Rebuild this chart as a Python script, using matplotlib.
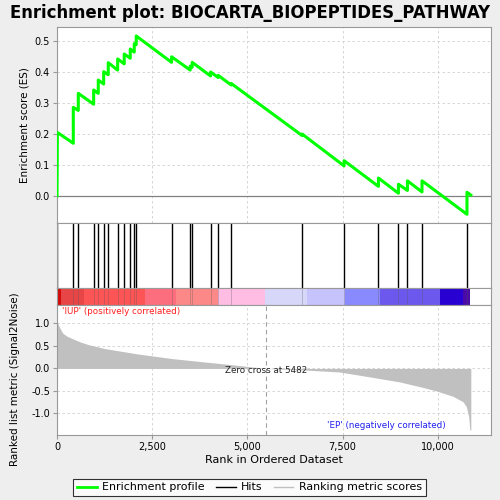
import matplotlib
matplotlib.use("Agg")
import matplotlib.pyplot as plt
from matplotlib.lines import Line2D
from matplotlib.ticker import FuncFormatter

# ---------------- data ----------------
es_rank = [0, 10, 428, 428, 559, 559, 963, 963, 1084, 1084, 1226, 1226, 1346, 1346,
           1593, 1593, 1766, 1766, 1924, 1924, 2029, 2029, 2081, 2081, 3010, 3010,
           3499, 3499, 3551, 3551, 4034, 4034, 4234, 4234, 4575, 4575, 6438, 6438,
           7541, 7541, 8443, 8443, 8968, 8968, 9205, 9205, 9588, 9588, 10769, 10769, 10870]
es_value = [0.0, 0.204, 0.169, 0.285, 0.275, 0.330, 0.295, 0.341, 0.330, 0.373, 0.360, 0.400,
            0.390, 0.429, 0.405, 0.441, 0.425, 0.457, 0.443, 0.473, 0.463, 0.490, 0.487, 0.515,
            0.430, 0.448, 0.405, 0.418, 0.414, 0.430, 0.386, 0.399, 0.381, 0.388, 0.357, 0.362,
            0.194, 0.199, 0.096, 0.113, 0.030, 0.057, 0.008, 0.037, 0.017, 0.048, 0.012, 0.048,
            -0.060, 0.011, 0.002]

hit_ranks = [5, 428, 559, 963, 1084, 1226, 1346, 1593, 1766, 1924, 2029, 2081, 3010,
             3499, 3551, 4034, 4234, 4575, 6438, 7541, 8443, 8968, 9205, 9588, 10769]

metric_rank = [0, 40, 105, 157, 254, 385, 604, 822, 1260, 1697, 2135, 2572, 3010, 3800,
               4500, 5000, 5482, 6600, 7428, 8300, 9000, 9600, 9966, 10402, 10664, 10752,
               10814, 10845, 10870]
metric_value = [1.04, 0.96, 0.85, 0.78, 0.72, 0.67, 0.59, 0.53, 0.44, 0.38, 0.32, 0.27, 0.22,
                0.15, 0.09, 0.045, 0.0, -0.04, -0.08, -0.20, -0.30, -0.42, -0.50, -0.62,
                -0.74, -0.85, -1.07, -1.37, -1.37]

band_edges = [0, 105, 716, 2308, 3121, 4231, 5474, 6557, 7566, 8485, 10058, 10656, 10858]
band_colors = ["#d20a0a", "#e84646", "#fd5555", "#fc6e7e", "#fd8888", "#ffbde3",
               "#d7d7fa", "#c6c2fc", "#8a8aff", "#6c58ec", "#2800d2", "#4a0aa8"]

zero_cross = 5482
x_ticks = [0, 2500, 5000, 7500, 10000]
es_ticks = [0.0, 0.1, 0.2, 0.3, 0.4, 0.5]
metric_ticks = [-1.0, -0.5, 0.0, 0.5, 1.0]

title = "Enrichment plot: BIOCARTA_BIOPEPTIDES_PATHWAY"

# ---------------- figure ----------------
plt.rcParams['font.family'] = ['DejaVu Sans']
fig = plt.figure(figsize=(5, 5), dpi=100, facecolor="#eeeeee")
XMAX = 11400
L, W = 0.114, 0.868
spine_c = "#999999"

def px(y0, y1):
    return [L, 1 - y1 / 500, W, (y1 - y0) / 500]

ax_es = fig.add_axes(px(27.3, 223.3))
ax_hits = fig.add_axes(px(223.3, 288.3))
ax_cb = fig.add_axes(px(288.3, 305))
ax_m = fig.add_axes(px(305, 435))

for ax in (ax_es, ax_hits, ax_cb, ax_m):
    ax.set_xlim(0, XMAX)
    ax.set_facecolor("white")
    for s in ax.spines.values():
        s.set_color(spine_c)
        s.set_linewidth(0.8)

grid_kw = dict(color="#d0d0d0", linestyle=(0, (3, 3)), linewidth=0.6)

# ES panel
ax_es.set_ylim(-0.089, 0.543)
for t in x_ticks[1:]:
    ax_es.axvline(t, **grid_kw, zorder=0)
for t in es_ticks[1:]:
    ax_es.axhline(t, **grid_kw, zorder=0)
ax_es.axhline(0.0, color="#808080", linewidth=0.9, zorder=1)
ax_es.plot(es_rank, es_value, color="#00ff00", linewidth=2.2, zorder=3)
ax_es.set_xticks(x_ticks)
ax_es.tick_params(axis="x", labelbottom=False, length=0)
ax_es.set_yticks(es_ticks)
ax_es.set_yticklabels([f"{t:.1f}" for t in es_ticks])
ax_es.tick_params(axis="y", labelsize=7, length=3, color=spine_c, pad=2)
ax_es.set_ylabel("Enrichment score (ES)", fontsize=7.5, labelpad=4)
fig.text(0.5, 1 - 13.5 / 500, title, fontsize=11.9, fontweight="bold",
         ha="center", va="center")

# hits panel
ax_hits.set_ylim(0, 1)
ax_hits.vlines(hit_ranks, 0, 1, color="black", linewidth=1)
ax_hits.set_xticks([])
ax_hits.set_yticks([])

# colour band
ax_cb.set_ylim(0, 1)
for i, c in enumerate(band_colors):
    ax_cb.axvspan(band_edges[i], band_edges[i + 1], color=c, linewidth=0)
ax_cb.vlines(hit_ranks, 0, 1, color="#555555", linewidth=0.6, alpha=0.35)
ax_cb.set_xticks([])
ax_cb.set_yticks([])

# metric panel
ax_m.set_ylim(-1.48, 1.41)
for t in x_ticks[1:]:
    ax_m.axvline(t, **grid_kw, zorder=0)
for t in metric_ticks:
    ax_m.axhline(t, **grid_kw, zorder=0)
ax_m.fill_between(metric_rank, metric_value, 0, color="#c0c0c0", linewidth=0, zorder=2)
ax_m.axvline(zero_cross, color="#a0a0a0", linestyle=(0, (4, 3)), linewidth=0.8, zorder=3)
ax_m.set_xticks(x_ticks)
ax_m.xaxis.set_major_formatter(FuncFormatter(lambda v, p: f"{int(v):,}"))
ax_m.set_yticks(metric_ticks)
ax_m.set_yticklabels([f"{t:.1f}" for t in metric_ticks])
ax_m.tick_params(labelsize=7, length=3, color=spine_c, pad=2)
ax_m.set_xlabel("Rank in Ordered Dataset", fontsize=8, labelpad=2)
ax_m.set_ylabel("Ranked list metric (Signal2Noise)", fontsize=7.5, labelpad=4)
ax_m.yaxis.set_label_coords(-0.085, 0.43)

ax_m.text(120, 1.26, "'IUP' (positively correlated)", color="#ff2020", fontsize=6.3,
          ha="left", va="center")
ax_m.text(zero_cross, -0.05, f"Zero cross at {zero_cross}", color="#222222", fontsize=6.3,
          ha="center", va="center")
ax_m.text(10200, -1.27, "'EP' (negatively correlated)", color="#2020ee", fontsize=6.3,
          ha="right", va="center")

handles = [Line2D([], [], color="#00ff00", linewidth=2),
           Line2D([], [], color="black", linewidth=1),
           Line2D([], [], color="#c0c0c0", linewidth=1)]
leg = fig.legend(handles, ["Enrichment profile", "Hits", "Ranking metric scores"],
                 loc="center", bbox_to_anchor=(0.499, 0.025), ncol=3, fontsize=7.9,
                 frameon=True, fancybox=False, edgecolor="black", facecolor="white",
                 handlelength=1.8, columnspacing=1.0, handletextpad=0.5,
                 borderpad=0.35)
leg.get_frame().set_linewidth(0.8)

fig.savefig("out.png", dpi=100, facecolor=fig.get_facecolor())
